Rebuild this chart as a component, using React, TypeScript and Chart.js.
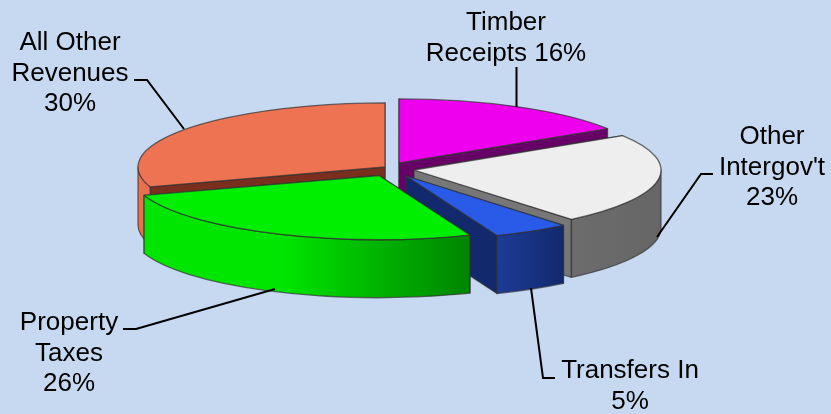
import React, { useEffect, useRef } from "react";
import { Chart, registerables } from "chart.js";

Chart.register(...registerables);

const categories = ["Timber Receipts", "Other Intergov't", "Transfers In", "Property Taxes", "All Other Revenues"];
const values = [16, 23, 5, 26, 30];

const topColors = ["#ee00ee", "#eeeeee", "#2a5be8", "#00ee00", "#ee7352"];
const faceColors = ["#660066", "#777777", "#13296e", "#008800", "#7a2e1e"];
const wallStart = ["#660066", "#6c6c6c", "#1c3c96", "#00e600", "#e8704f"];
const wallEnd = ["#660066", "#666666", "#13296e", "#008400", "#e8704f"];

// how far each slice is pulled out of the pie
const explodeX = [7, 22, 14, -13, -7];
const explodeY = [-6, 1, 7, 6.5, -2];
// back-to-front painting order
const paintOrder = [0, 4, 1, 2, 3];

const labelLines = [
  ["Timber", `Receipts ${values[0]}%`],
  ["Other", "Intergov't", `${values[1]}%`],
  ["Transfers In", `${values[2]}%`],
  ["Property", "Taxes", `${values[3]}%`],
  ["All Other", "Revenues", `${values[4]}%`],
];
const labelAnchors = [
  [506, 30],
  [772, 144],
  [630, 378],
  [69, 330],
  [70, 50],
];
const leaders = [
  [[516.5, 67], [516.5, 107]],
  [[713, 174], [701, 174], [657, 237]],
  [[531, 288], [543, 378], [555, 378]],
  [[123, 329], [136, 329], [275, 289]],
  [[134, 80], [147, 80], [184, 129]],
];

const RX = 1.4615;
const RY = 0.379;
const DEPTH = 58;
const LINE_H = 30.7;

const pie3d = {
  id: "pie3d",
  beforeDatasetsDraw(chart: any) {
    const { ctx } = chart;
    const arcs = chart.getDatasetMeta(0).data;
    const outline = "rgba(50,50,50,0.7)";
    for (const i of paintOrder) {
      const arc = arcs[i];
      const cx = arc.x + explodeX[i];
      const cy = arc.y + explodeY[i];
      const rx = arc.outerRadius * RX;
      const ry = arc.outerRadius * RY;
      const a0 = arc.startAngle;
      const a1 = arc.endAngle;
      ctx.save();
      ctx.lineWidth = 1.3;
      ctx.strokeStyle = outline;
      ctx.lineJoin = "round";

      const face = (a: number) => {
        const px = cx + rx * Math.cos(a);
        const py = cy + ry * Math.sin(a);
        ctx.beginPath();
        ctx.moveTo(cx, cy);
        ctx.lineTo(px, py);
        ctx.lineTo(px, py + DEPTH);
        ctx.lineTo(cx, cy + DEPTH);
        ctx.closePath();
        ctx.fillStyle = faceColors[i];
        ctx.fill();
        ctx.stroke();
      };
      // hidden face first, then the one turned to the viewer
      if (Math.cos(a0) < 0) {
        face(a1);
        face(a0);
      } else {
        face(a0);
        face(a1);
      }

      const w0 = Math.max(a0, 0);
      const w1 = Math.min(a1, Math.PI);
      if (w1 > w0) {
        ctx.beginPath();
        ctx.ellipse(cx, cy, rx, ry, 0, w0, w1);
        ctx.ellipse(cx, cy + DEPTH, rx, ry, 0, w1, w0, true);
        ctx.closePath();
        const xa = cx + rx * Math.cos(w0);
        const xb = cx + rx * Math.cos(w1);
        const g = ctx.createLinearGradient(xb, 0, xa, 0);
        g.addColorStop(0, wallStart[i]);
        g.addColorStop(i === 3 ? 0.42 : 0, wallStart[i]);
        g.addColorStop(1, wallEnd[i]);
        ctx.fillStyle = g;
        ctx.fill();
        ctx.stroke();
      }

      ctx.beginPath();
      ctx.moveTo(cx, cy);
      ctx.ellipse(cx, cy, rx, ry, 0, a0, a1);
      ctx.closePath();
      ctx.fillStyle = topColors[i];
      ctx.fill();
      ctx.stroke();
      ctx.restore();
    }
    return false;
  },
  afterDraw(chart: any) {
    const { ctx } = chart;
    ctx.save();
    ctx.strokeStyle = "#000000";
    ctx.lineWidth = 2;
    for (const pts of leaders) {
      ctx.beginPath();
      pts.forEach((p, k) => (k ? ctx.lineTo(p[0], p[1]) : ctx.moveTo(p[0], p[1])));
      ctx.stroke();
    }
    ctx.fillStyle = "#000000";
    ctx.font = '26px "Liberation Sans", Arial, sans-serif';
    ctx.textAlign = "center";
    ctx.textBaseline = "alphabetic";
    labelLines.forEach((lines, i) => {
      lines.forEach((t, k) => ctx.fillText(t, labelAnchors[i][0], labelAnchors[i][1] + k * LINE_H));
    });
    ctx.restore();
  },
};

export default function App() {
  const ref = useRef<HTMLCanvasElement>(null);
  useEffect(() => {
    document.body.style.margin = "0";
    document.body.style.background = "#c6d9f1";
    const chart = new Chart(ref.current as HTMLCanvasElement, {
      type: "pie",
      data: {
        labels: categories,
        datasets: [{ data: values, backgroundColor: topColors, borderWidth: 0 }],
      },
      options: {
        animation: false,
        responsive: false,
        layout: { padding: { left: 0, right: 47, top: 0, bottom: 76 } },
        plugins: { legend: { display: false }, tooltip: { enabled: false } },
      },
      plugins: [pie3d],
    } as any);
    return () => chart.destroy();
  }, []);
  return (
    <canvas
      ref={ref}
      width={831}
      height={414}
      style={{ display: "block", width: 831, height: 414, background: "#c6d9f1" }}
    />
  );
}
